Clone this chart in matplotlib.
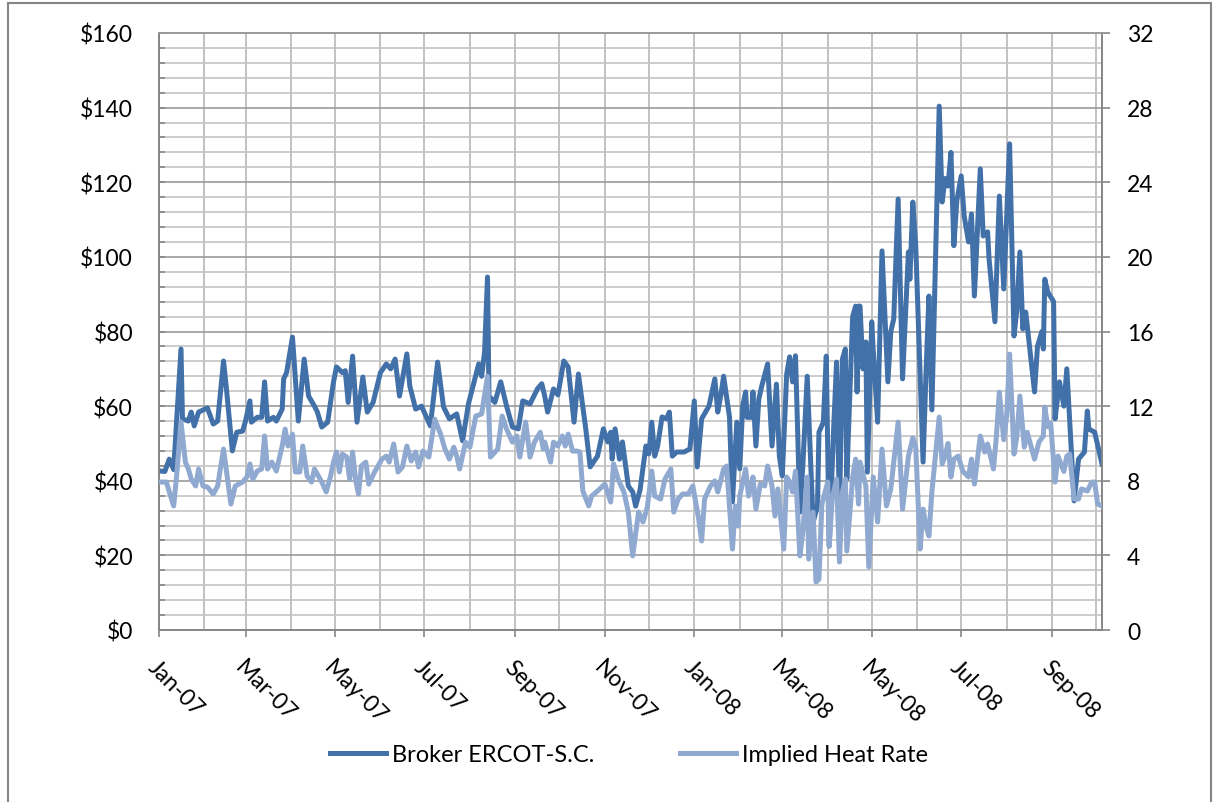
import numpy as np
import matplotlib
matplotlib.use("Agg")
import matplotlib.pyplot as plt
import matplotlib.dates as mdates
from matplotlib.ticker import MultipleLocator, FuncFormatter
from matplotlib.patches import Rectangle

# day offsets from 1 Jan 2007
start = np.datetime64("2007-01-01")

broker_day = [1, 4, 7, 10, 15, 16, 20, 22, 24, 27, 33, 37, 40, 44, 46, 50, 53, 57, 59, 62,
              63, 67, 70, 72, 74, 78, 80, 84, 85, 87, 91, 95, 99, 102, 106, 108, 111, 115, 119, 121,
              125, 127, 129, 132, 135, 139, 142, 146, 151, 155, 158, 161, 164, 169, 171, 175, 179, 185, 190, 194,
              198, 203, 207, 211, 218, 220, 222, 224, 225, 229, 233, 237, 241, 245, 248, 253, 258, 261, 263, 265,
              269, 272, 276, 279, 283, 286, 291, 294, 299, 303, 306, 308, 309, 311, 314, 316, 320, 323, 325, 328,
              332, 334, 336, 338, 340, 343, 346, 348, 350, 353, 358, 362, 365, 367, 370, 375, 379, 381, 383, 385,
              389, 391, 394, 396, 398, 400, 401, 404, 405, 407, 409, 411, 415, 418, 421, 423, 425, 428, 430, 432,
              434, 435, 437, 439, 442, 444, 446, 449, 450, 453, 455, 457, 460, 462, 464, 466, 468, 469, 471, 473,
              475, 476, 477, 478, 480, 482, 483, 486, 487, 490, 493, 497, 499, 501, 504, 507, 511, 512, 514, 516,
              521, 523, 525, 527, 532, 534, 536, 538, 540, 542, 544, 547, 549, 552, 554, 556, 560, 562, 565, 566,
              570, 573, 576, 580, 583, 585, 587, 589, 591, 597, 599, 602, 603, 604, 606, 610, 611, 614, 617, 619,
              624, 627, 631, 633, 634, 638, 643]
broker_price = [42.6, 42.5, 45.8, 43.0, 75.3, 56.6, 56.0, 58.4, 54.7, 58.4, 59.5, 55.2, 56.0, 72.1, 64.6, 48.0, 53.0, 53.3, 56.0, 61.4,
                55.7, 57.0, 57.0, 66.5, 56.0, 57.0, 56.0, 59.2, 67.3, 69.0, 78.5, 56.0, 72.6, 62.7, 60.0, 58.4, 54.4, 55.7, 66.5, 70.5,
                69.0, 69.5, 61.0, 73.4, 55.7, 67.8, 58.4, 61.0, 69.0, 71.3, 70.0, 72.6, 62.7, 74.0, 65.4, 59.2, 60.0, 54.7, 71.8, 59.8,
                56.6, 57.9, 50.7, 60.6, 71.3, 68.0, 74.5, 94.6, 62.7, 61.0, 66.5, 60.0, 54.4, 53.9, 61.4, 60.6, 64.6, 66.0, 62.7, 58.4,
                64.6, 63.0, 72.1, 70.5, 55.7, 68.6, 53.9, 43.7, 46.6, 53.9, 50.4, 53.0, 45.8, 53.9, 45.8, 50.4, 38.6, 37.0, 33.2, 37.5,
                49.3, 47.2, 55.7, 46.6, 49.3, 57.1, 56.6, 58.4, 46.6, 47.7, 47.7, 48.5, 61.4, 43.7, 56.6, 60.0, 67.3, 58.4, 62.7, 68.0,
                57.1, 34.3, 55.7, 43.2, 60.0, 63.8, 57.0, 57.0, 63.8, 49.3, 61.9, 65.4, 71.3, 49.3, 65.9, 46.6, 41.3, 68.6, 73.2, 66.5,
                73.5, 60.0, 31.6, 44.0, 68.0, 48.5, 28.9, 33.2, 53.0, 55.7, 73.4, 22.5, 53.9, 71.8, 31.6, 72.6, 75.3, 40.5, 62.7, 84.0,
                86.8, 63.8, 86.8, 86.8, 70.0, 77.2, 42.3, 82.6, 75.0, 55.7, 101.6, 66.5, 80.0, 83.4, 115.5, 67.3, 101.3, 94.0, 114.7, 103.0,
                45.0, 69.0, 89.5, 59.0, 140.4, 114.7, 121.0, 119.0, 128.0, 103.0, 115.0, 121.7, 111.0, 104.0, 111.5, 89.5, 123.6, 105.6, 106.7, 99.4,
                82.6, 116.3, 91.4, 130.3, 78.8, 86.0, 101.3, 80.7, 85.2, 63.8, 76.0, 80.0, 75.3, 94.0, 90.6, 88.0, 56.6, 66.5, 60.0, 70.0,
                34.6, 45.8, 47.7, 58.7, 53.9, 53.0, 44.5]

hr_day = [1, 5, 10, 12, 15, 18, 20, 22, 25, 27, 30, 33, 37, 40, 44, 47, 49, 52, 57, 60,
          62, 64, 67, 70, 72, 74, 77, 80, 84, 86, 88, 91, 93, 96, 98, 101, 104, 106, 111, 114,
          117, 119, 121, 123, 125, 128, 130, 132, 134, 136, 138, 141, 143, 147, 152, 155, 157, 160, 163, 166,
          169, 172, 175, 177, 180, 184, 188, 192, 195, 198, 201, 203, 205, 209, 212, 216, 220, 224, 226, 231,
          234, 237, 241, 244, 246, 250, 253, 256, 260, 262, 263, 267, 269, 272, 275, 277, 279, 282, 285, 287,
          289, 293, 295, 299, 304, 308, 310, 313, 317, 320, 323, 327, 330, 333, 336, 338, 342, 345, 349, 351,
          354, 357, 361, 364, 368, 370, 372, 376, 379, 381, 385, 387, 389, 391, 393, 395, 396, 400, 402, 404,
          405, 407, 410, 413, 415, 418, 420, 422, 424, 426, 428, 430, 432, 434, 437, 439, 442, 443, 446, 448,
          450, 452, 456, 457, 459, 462, 464, 466, 468, 469, 473, 475, 477, 478, 482, 484, 487, 490, 493, 496,
          499, 501, 504, 507, 511, 514, 516, 519, 521, 523, 525, 527, 532, 534, 536, 538, 540, 542, 545, 548,
          552, 554, 556, 560, 563, 565, 569, 571, 573, 576, 578, 580, 583, 585, 587, 590, 592, 597, 600, 603,
          604, 606, 608, 611, 613, 617, 619, 621, 624, 627, 629, 633, 636, 638, 640, 643]
hr_value = [7.93, 7.93, 6.65, 8.25, 11.15, 9.0, 8.63, 8.09, 7.72, 8.63, 7.72, 7.66, 7.29, 7.72, 9.7, 7.93, 6.75, 7.72, 7.93, 8.2,
            8.9, 8.09, 8.52, 8.63, 10.4, 8.63, 9.0, 8.52, 9.86, 10.77, 9.86, 10.5, 8.47, 8.47, 9.86, 8.25, 7.93, 8.63, 7.93, 7.4,
            8.25, 9.0, 9.54, 8.47, 9.43, 9.27, 8.09, 9.54, 8.09, 7.29, 8.79, 9.0, 7.82, 8.47, 9.16, 9.32, 9.0, 9.97, 8.47, 8.74,
            9.86, 9.06, 9.54, 8.74, 9.59, 9.27, 11.3, 10.5, 9.7, 9.16, 9.8, 9.32, 8.63, 10.07, 9.8, 11.47, 11.58, 13.6, 9.27, 9.7,
            11.47, 10.77, 10.07, 10.4, 9.27, 11.15, 9.27, 10.07, 10.6, 9.7, 10.07, 9.0, 10.07, 9.86, 10.4, 9.86, 10.5, 9.59, 9.59, 9.54,
            7.45, 6.65, 7.18, 7.45, 7.82, 6.86, 8.9, 8.09, 7.4, 6.32, 3.97, 6.32, 5.79, 6.59, 8.52, 7.18, 7.02, 8.09, 8.63, 6.32,
            7.02, 7.29, 7.29, 7.72, 5.95, 4.77, 7.02, 7.72, 7.99, 7.4, 8.63, 8.79, 6.65, 4.34, 6.65, 5.57, 7.18, 8.63, 7.18, 7.72,
            8.2, 6.48, 7.82, 7.72, 8.79, 7.72, 6.11, 7.56, 5.95, 4.34, 8.2, 7.93, 7.4, 8.52, 3.97, 5.25, 8.2, 3.8, 6.32, 2.57,
            2.73, 6.75, 7.93, 4.5, 7.02, 8.09, 3.64, 7.4, 8.09, 4.23, 8.2, 9.16, 6.75, 9.0, 7.72, 3.38, 8.2, 5.79, 9.7, 6.65,
            7.56, 9.0, 11.15, 6.48, 9.32, 10.3, 9.8, 4.34, 6.48, 5.57, 5.04, 7.4, 11.41, 8.9, 9.32, 10.0, 8.2, 9.16, 9.32, 8.52,
            8.2, 9.16, 7.82, 10.4, 9.54, 9.97, 8.63, 10.4, 12.75, 10.2, 11.47, 14.79, 9.43, 10.4, 12.54, 9.8, 10.6, 9.16, 10.07, 10.4,
            11.95, 10.9, 11.1, 7.93, 9.32, 8.5, 9.32, 9.43, 7.02, 7.02, 7.56, 7.45, 7.93, 7.93, 6.75, 6.65]

broker_dates = start + np.array(broker_day).astype("timedelta64[D]")
hr_dates = start + np.array(hr_day).astype("timedelta64[D]")

dark_blue = "#4270a8"
light_blue = "#90a9d0"
grid_minor = "#c4c4c4"
grid_major = "#9a9a9a"
axis_gray = "#868686"

plt.rcParams["font.family"] = ["Lato", "DejaVu Sans"]

W, H = 1214, 803
PX = 72 / 100  # points per pixel at dpi 100
fig = plt.figure(figsize=(W / 100, H / 100), dpi=100)
ax = fig.add_axes([159 / W, 1 - 631 / H, 943 / W, 597 / H])
ax2 = ax.twinx()

ax.plot(broker_dates, broker_price, color=dark_blue, lw=3.6, solid_joinstyle="round",
        label="Broker ERCOT-S.C.", zorder=3)
ax2.plot(hr_dates, hr_value, color=light_blue, lw=3.6, solid_joinstyle="round",
         label="Implied Heat Rate", zorder=3)

ax.set_xlim(start, start + np.timedelta64(643, "D"))
ax.set_ylim(0, 160)
ax2.set_ylim(0, 32)

# gridlines: monthly verticals, $4 minor / $20 major horizontals
ax.xaxis.set_major_locator(mdates.MonthLocator(bymonth=[1, 3, 5, 7, 9, 11]))
ax.xaxis.set_minor_locator(mdates.MonthLocator())
ax.xaxis.set_major_formatter(mdates.DateFormatter("%b-%y"))
ax.yaxis.set_major_locator(MultipleLocator(20))
ax.yaxis.set_minor_locator(MultipleLocator(4))
ax.yaxis.set_major_formatter(FuncFormatter(lambda v, p: f"${v:.0f}"))
ax2.yaxis.set_major_locator(MultipleLocator(4))

ax.set_axisbelow(True)
ax.grid(which="minor", axis="y", color=grid_minor, lw=1.2)
ax.grid(which="major", axis="y", color=grid_major, lw=1.2)
ax.grid(which="both", axis="x", color="#b8b8b8", lw=1.2)

ax.tick_params(axis="y", which="both", direction="in", length=6 * PX, width=1.2,
               color=axis_gray, labelsize=16.5, pad=26 * PX)
ax.tick_params(axis="x", which="major", direction="out", length=7 * PX, width=1.2,
               color=axis_gray, labelsize=16.5, pad=19 * PX)
ax.tick_params(axis="x", which="minor", length=0)
ax2.tick_params(axis="y", direction="out", length=8 * PX, width=1.2,
                color=axis_gray, labelsize=16.5, pad=17 * PX)

for lbl in ax.get_xticklabels():
    lbl.set_rotation(-45)
    lbl.set_ha("left")
    lbl.set_va("top")
    lbl.set_rotation_mode("anchor")

for a in (ax, ax2):
    for side in ("left", "right", "bottom"):
        a.spines[side].set_color(axis_gray)
        a.spines[side].set_linewidth(1.2)
    a.spines["top"].set_color(grid_major)
    a.spines["top"].set_linewidth(1.2)

h1, l1 = ax.get_legend_handles_labels()
h2, l2 = ax2.get_legend_handles_labels()
fig.legend(h1 + h2, l1 + l2, loc="center", bbox_to_anchor=(0.518, 1 - 756 / H),
           ncol=2, frameon=False, fontsize=17, handlelength=2.4,
           columnspacing=3.6, handletextpad=0.25)

# chart area border
fig.patches.append(Rectangle((8 / W, -0.05), (1211 - 8) / W, 1.05 - 4 / H,
                             transform=fig.transFigure, fill=False,
                             ec=axis_gray, lw=1.5))

fig.savefig("out.png", dpi=100)
